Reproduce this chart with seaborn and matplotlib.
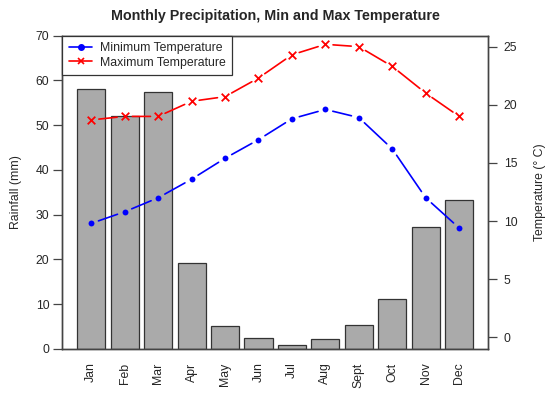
import numpy as np
import matplotlib
matplotlib.use("Agg")
import matplotlib.pyplot as plt
import seaborn as sns
from matplotlib.lines import Line2D

months = ["Jan", "Feb", "Mar", "Apr", "May", "Jun", "Jul", "Aug", "Sept", "Oct", "Nov", "Dec"]
rainfall = [58.0, 52.0, 57.5, 19.1, 5.1, 2.3, 0.8, 2.2, 5.4, 11.2, 27.2, 33.3]
min_temp = [9.8, 10.8, 12.0, 13.6, 15.4, 17.0, 18.8, 19.6, 18.9, 16.2, 12.0, 9.4]
max_temp = [18.7, 19.0, 19.0, 20.3, 20.7, 22.3, 24.3, 25.2, 25.0, 23.3, 21.0, 19.0]
rain_ticks = [0, 10, 20, 30, 40, 50, 60, 70]
temp_ticks = [0, 5, 10, 15, 20, 25]

sns.set_theme(style="white")
plt.rcParams["font.family"] = ["Liberation Sans", "DejaVu Sans"]
plt.rcParams["axes.edgecolor"] = "#444444"
plt.rcParams["axes.linewidth"] = 1.0

FS = 8.8
fig = plt.figure(figsize=(5.5, 3.96), dpi=100)
ax = fig.add_axes([0.1136, 0.1194, 0.7736, 0.7904])

pos = np.arange(len(months))
sns.barplot(x=pos, y=rainfall, color="#AAAAAA", saturation=1, edgecolor="#333333",
            linewidth=0.9, width=0.84, errorbar=None, ax=ax, native_scale=True)
ax.set_xlim(-0.86, 11.86)
ax.set_ylim(0, 70)
ax.set_yticks(rain_ticks)
ax.set_xticks(pos)
ax.set_xticklabels(months, rotation=90, fontsize=FS)
ax.tick_params(axis="x", length=0, pad=10)
ax.tick_params(axis="y", length=6.5, width=0.9, color="#444444", labelsize=FS, left=True, pad=3)
ax.set_ylabel("Rainfall (mm)", fontsize=FS, labelpad=10)
ax.set_xlabel("")

ax2 = ax.twinx()
ax2.set_ylim(-0.98, 25.94)
ax2.set_yticks(temp_ticks)
ax2.tick_params(axis="y", length=6.5, width=0.9, color="#444444", labelsize=FS, right=True, pad=5)
ax2.set_ylabel("Temperature (° C)", fontsize=FS, labelpad=12)

def gapped_line(axis, xs, ys, color):
    for i in range(len(xs) - 1):
        axis.annotate("", xy=(xs[i + 1], ys[i + 1]), xytext=(xs[i], ys[i]),
                      arrowprops=dict(arrowstyle="-", color=color, lw=1.2,
                                      shrinkA=5.5, shrinkB=5.5))

gapped_line(ax2, pos, min_temp, "blue")
gapped_line(ax2, pos, max_temp, "red")
sns.scatterplot(x=pos, y=min_temp, marker="o", color="blue", s=18, edgecolor="blue",
                linewidth=0, ax=ax2, zorder=3)
sns.scatterplot(x=pos, y=max_temp, marker="x", color="red", s=30, linewidth=1.3,
                ax=ax2, zorder=3)
ax2.set_xlim(-0.86, 11.86)

handles = [Line2D([0], [0], color="blue", lw=1.2, marker="o", markersize=4),
           Line2D([0], [0], color="red", lw=1.2, marker="x", markersize=5, markeredgewidth=1.2)]
leg = ax2.legend(handles, ["Minimum Temperature", "Maximum Temperature"], loc="upper left",
                 bbox_to_anchor=(0, 1), borderaxespad=0, fancybox=False, framealpha=1,
                 edgecolor="#333333", fontsize=FS, handlelength=1.9, handletextpad=0.6,
                 borderpad=0.55, labelspacing=0.18)
leg.get_frame().set_linewidth(0.9)

for a in (ax, ax2):
    for s in a.spines.values():
        s.set_visible(True)
        s.set_color("#444444")

fig.suptitle("Monthly Precipitation, Min and Max Temperature", fontsize=10.3,
             fontweight="bold", y=0.978)

fig.savefig("out.png", dpi=100)
